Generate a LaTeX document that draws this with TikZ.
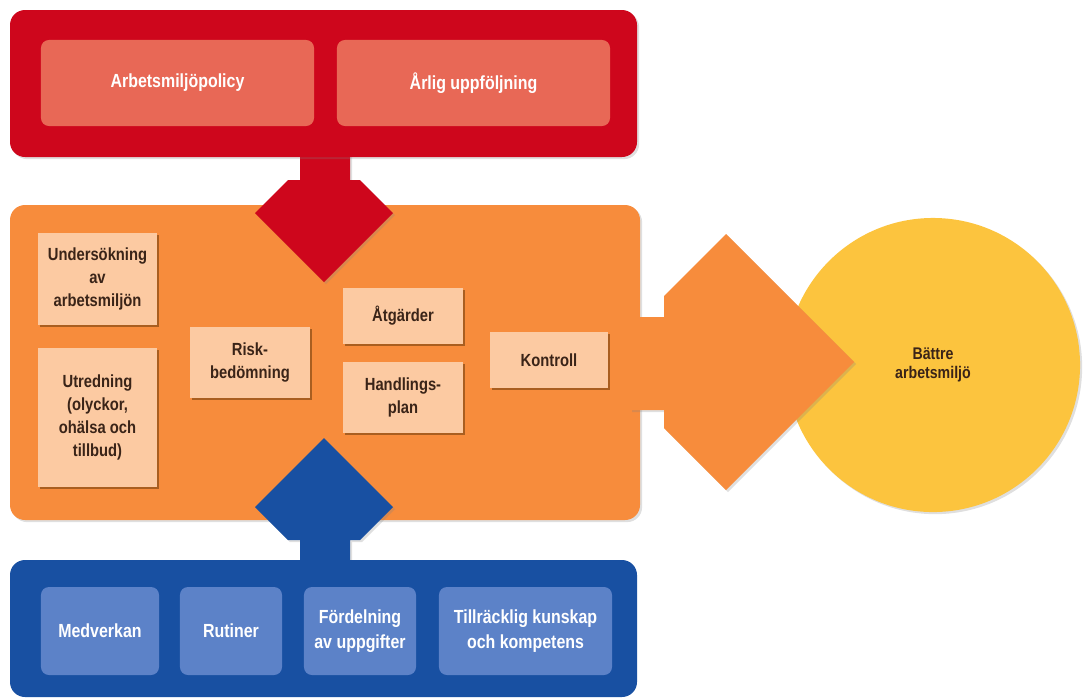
\documentclass[tikz,border=0pt]{standalone}
\usepackage{fontspec}
\setmainfont{Liberation Sans}[FakeStretch=0.84]
\usepackage{tikz}
\usetikzlibrary{shapes,positioning,shadows}

\definecolor{redframe}{RGB}{206,6,28}
\definecolor{redinner}{RGB}{232,104,86}
\definecolor{orangearea}{RGB}{247,140,60}
\definecolor{peach}{RGB}{252,202,162}
\definecolor{blueframe}{RGB}{24,80,162}
\definecolor{blueinner}{RGB}{92,130,200}
\definecolor{sun}{RGB}{252,196,62}
\definecolor{darktext}{RGB}{58,36,24}

\begin{document}
\begin{tikzpicture}[x=0.025cm,y=-0.025cm,
	redbox/.style={rectangle,rounded corners=0.2cm,fill=redinner,text=white,font=\bfseries\fontsize{13.5}{16.5}\selectfont,align=center,minimum height=2.15cm},
	bluebox/.style={rectangle,rounded corners=0.2cm,fill=blueinner,text=white,font=\bfseries\fontsize{13.5}{17.5}\selectfont,align=center,minimum height=2.2cm},
	peachbox/.style={rectangle,fill=peach,text=darktext,font=\bfseries\fontsize{12.5}{16.5}\selectfont,align=center,drop shadow={shadow xshift=1.6pt,shadow yshift=-1.6pt,opacity=0.45,fill=black!70!orange}},
	blockshadow/.style={drop shadow={shadow xshift=1.5pt,shadow yshift=-1.5pt,opacity=0.25}}]
	\useasboundingbox (0,0) rectangle (1083,699);

	\node[circle,fill=sun,minimum size=7.35cm,blockshadow,text=darktext,font=\bfseries\fontsize{12}{14}\selectfont,align=center] (goal) at (933,365) {Bättre\\arbetsmiljö};

	\fill[orangearea,rounded corners=0.375cm,blockshadow] (10,205) rectangle (640,520);
	\fill[orangearea,blockshadow] (630,317) -- (664,317) -- (664,296) -- (726,234) -- (854,362) -- (726,490) -- (664,428) -- (664,410) -- (630,410) -- cycle;

	\fill[redframe,blockshadow] (300,150) -- (300,180) -- (288,180) -- (255,213) -- (324,282) -- (393,213) -- (360,180) -- (350,180) -- (350,150) -- cycle;
	\fill[redframe,rounded corners=0.375cm,blockshadow] (10,10) rectangle (637,157);

	\fill[blueframe,blockshadow] (300,570) -- (300,540) -- (288,540) -- (255,507) -- (324,438) -- (393,507) -- (360,540) -- (350,540) -- (350,570) -- cycle;
	\fill[blueframe,rounded corners=0.375cm] (10,560) rectangle (637,697);

	\node[redbox,minimum width=6.825cm] (policy) at (177.5,83) {Arbetsmiljöpolicy};
	\node[redbox,minimum width=6.825cm] (annual) at (473.5,83) {Årlig uppföljning};

	\node[peachbox,minimum width=2.975cm,minimum height=2.3cm] (survey) at (97.5,279) {Undersökning\\av\\arbetsmiljön};
	\node[peachbox,minimum width=2.975cm,minimum height=3.475cm] (inquiry) at (97.5,417.5) {Utredning\\(olyckor,\\ohälsa och\\tillbud)};
	\node[peachbox,minimum width=3cm,minimum height=1.775cm] (risk) at (250,362.5) {Risk-\\bedömning};
	\node[peachbox,minimum width=3cm,minimum height=1.4cm] (measures) at (403,316) {Åtgärder};
	\node[peachbox,minimum width=3cm,minimum height=1.775cm] (plan) at (403,397.5) {Handlings-\\plan};
	\node[peachbox,minimum width=2.95cm,minimum height=1.4cm] (control) at (549,360) {Kontroll};

	\node[bluebox,minimum width=2.95cm] (participation) at (100,631) {Medverkan};
	\node[bluebox,minimum width=2.55cm] (routines) at (231,631) {Rutiner};
	\node[bluebox,minimum width=2.8cm] (tasks) at (360,631) {Fördelning\\av uppgifter};
	\node[bluebox,minimum width=4.325cm] (skills) at (525.5,631) {Tillräcklig kunskap\\och kompetens};
\end{tikzpicture}
\end{document}
